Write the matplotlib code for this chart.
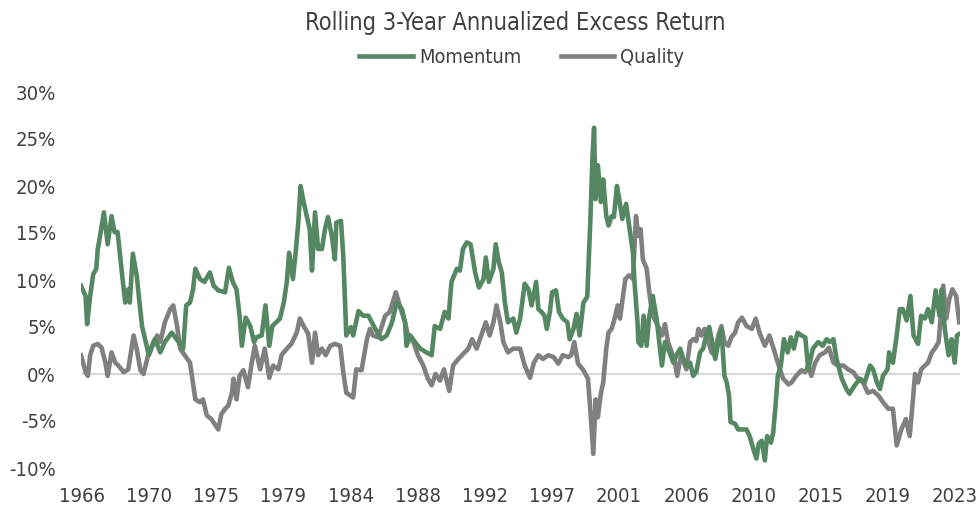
import numpy as np
import matplotlib
matplotlib.use("Agg")
import matplotlib.pyplot as plt
from matplotlib import font_manager

# rolling 3-year annualized excess return (percent)
momentum_years = [
    1966.0, 1966.3, 1966.4, 1966.6, 1966.8, 1967.0, 1967.1, 1967.2, 1967.5, 1967.75,
    1968.0, 1968.2, 1968.4, 1968.7, 1968.9, 1969.1, 1969.2, 1969.4, 1969.65, 1970.0,
    1970.25, 1970.45, 1970.85, 1971.2, 1971.5, 1971.95, 1972.4, 1972.7, 1972.9, 1973.15,
    1973.35, 1973.5, 1973.8, 1974.1, 1974.45, 1974.7, 1975.0, 1975.45, 1975.7, 1975.95,
    1976.2, 1976.4, 1976.55, 1976.8, 1977.1, 1977.35, 1977.5, 1977.85, 1978.1, 1978.35,
    1978.55, 1978.8, 1979.05, 1979.3, 1979.5, 1979.65, 1979.9, 1980.1, 1980.25, 1980.4,
    1980.6, 1980.85, 1981.0, 1981.15, 1981.35, 1981.55, 1981.8, 1982.0, 1982.2, 1982.45,
    1982.65, 1982.75, 1983.05, 1983.2, 1983.4, 1983.7, 1983.85, 1984.2, 1984.5, 1984.85,
    1985.3, 1985.7, 1986.05, 1986.4, 1986.7, 1987.05, 1987.25, 1987.35, 1987.6, 1987.9,
    1988.25, 1988.65, 1989.0, 1989.2, 1989.55, 1989.85, 1990.1, 1990.3, 1990.65, 1990.85,
    1991.05, 1991.3, 1991.55, 1991.85, 1992.1, 1992.4, 1992.55, 1992.75, 1993.05, 1993.2,
    1993.4, 1993.6, 1993.8, 1994.0, 1994.35, 1994.55, 1994.8, 1995.1, 1995.35, 1995.55,
    1995.85, 1996.0, 1996.2, 1996.4, 1996.55, 1996.75, 1996.9, 1997.15, 1997.35, 1997.6,
    1997.9, 1998.05, 1998.3, 1998.5, 1998.7, 1998.95, 1999.2, 1999.4, 1999.55, 1999.65,
    1999.75, 1999.9, 2000.1, 2000.25, 2000.45, 2000.6, 2000.8, 2000.95, 2001.15, 2001.3,
    2001.5, 2001.75, 2001.95, 2002.2, 2002.3, 2002.5, 2002.55, 2002.75, 2002.9, 2003.1,
    2003.25, 2003.5, 2003.75, 2004.1, 2004.3, 2004.6, 2004.85, 2005.05, 2005.3, 2005.5,
    2005.7, 2005.95, 2006.15, 2006.35, 2006.6, 2006.8, 2007.05, 2007.2, 2007.4, 2007.6,
    2007.8, 2008.0, 2008.1, 2008.2, 2008.35, 2008.5, 2008.6, 2008.9, 2009.1, 2009.35,
    2009.65, 2009.85, 2010.1, 2010.3, 2010.45, 2010.65, 2010.85, 2011.0, 2011.25, 2011.4,
    2011.55, 2011.7, 2011.9, 2012.1, 2012.35, 2012.55, 2012.75, 2013.0, 2013.25, 2013.5,
    2013.7, 2014.0, 2014.35, 2014.65, 2014.9, 2015.1, 2015.35, 2015.55, 2015.9, 2016.2,
    2016.4, 2016.75, 2017.1, 2017.4, 2017.75, 2017.95, 2018.2, 2018.4, 2018.6, 2018.9,
    2019.0, 2019.25, 2019.5, 2019.7, 2019.9, 2020.15, 2020.4, 2020.6, 2020.9, 2021.1,
    2021.35, 2021.55, 2021.8, 2022.05, 2022.3, 2022.45, 2022.65, 2022.9, 2023.1, 2023.3,
    2023.45, 2023.65,
]
momentum = [
    9.4, 8.3, 5.3, 8.3, 10.6, 11.2, 13.3, 14.2, 17.2, 13.8,
    16.8, 15.1, 15.1, 10.5, 7.6, 9.0, 7.6, 12.8, 10.5, 5.1,
    3.4, 2.0, 3.7, 2.3, 3.4, 4.4, 3.4, 2.7, 7.3, 7.6,
    9.0, 11.2, 10.1, 9.8, 10.8, 9.4, 8.9, 8.7, 11.3, 9.8,
    9.0, 6.2, 3.0, 6.0, 5.1, 3.4, 3.9, 4.1, 7.3, 3.0,
    5.1, 5.5, 5.9, 7.6, 9.8, 12.9, 10.1, 13.3, 16.1, 20.0,
    18.3, 16.5, 15.4, 11.0, 17.2, 13.3, 13.3, 15.4, 16.7, 14.7,
    12.2, 16.1, 16.3, 12.6, 4.1, 5.0, 4.1, 6.7, 6.2, 6.2,
    4.8, 3.7, 4.1, 5.5, 7.6, 6.9, 5.5, 3.0, 4.1, 3.4,
    2.7, 2.3, 2.0, 5.1, 4.8, 6.6, 5.9, 9.8, 11.2, 11.0,
    13.3, 14.0, 13.8, 10.8, 9.2, 10.1, 12.4, 9.8, 11.2, 13.8,
    11.9, 10.8, 7.6, 5.5, 5.9, 4.4, 5.9, 9.6, 9.0, 7.3,
    9.8, 6.9, 6.6, 6.2, 4.8, 6.6, 8.7, 8.9, 6.6, 5.9,
    5.5, 3.7, 4.8, 6.4, 4.1, 7.6, 8.2, 16.1, 23.2, 26.2,
    18.6, 22.2, 18.3, 20.7, 16.8, 15.8, 16.8, 16.7, 20.0, 18.6,
    16.5, 18.1, 15.8, 12.9, 9.8, 5.5, 3.4, 3.0, 6.2, 3.0,
    5.9, 8.3, 5.9, 0.9, 3.4, 2.3, 1.2, 2.0, 2.7, 1.6,
    0.9, 1.2, -0.2, 0.2, 2.3, 2.7, 4.4, 5.0, 3.4, 1.6,
    3.4, 4.8, 2.3, -0.2, -0.9, -2.3, -5.1, -5.3, -5.9, -5.9,
    -5.9, -6.6, -8.0, -9.0, -7.4, -7.1, -9.2, -6.6, -7.3, -6.2,
    -3.4, -0.2, 0.9, 3.7, 2.3, 3.9, 2.7, 4.4, 4.1, 3.9,
    0.5, 2.7, 3.4, 3.0, 3.7, 3.4, 3.7, 1.6, -0.5, -1.6,
    -2.1, -1.2, -0.5, -0.9, 0.9, 0.5, -0.9, -1.6, -0.2, 0.5,
    2.3, 1.2, 4.1, 6.9, 6.9, 5.7, 8.3, 4.1, 3.2, 6.2,
    5.9, 6.9, 5.5, 8.9, 6.2, 9.0, 4.8, 2.0, 3.7, 1.2,
    4.1, 4.3,
]

quality_years = [
    1966.0, 1966.3, 1966.45, 1966.6, 1966.8, 1967.1, 1967.35, 1967.6, 1967.75, 1968.0,
    1968.25, 1968.45, 1968.8, 1969.1, 1969.45, 1969.65, 1969.9, 1970.1, 1970.4, 1970.75,
    1971.0, 1971.2, 1971.5, 1971.85, 1972.05, 1972.3, 1972.5, 1972.8, 1973.15, 1973.5,
    1973.8, 1974.0, 1974.25, 1974.55, 1975.0, 1975.2, 1975.45, 1975.65, 1975.9, 1976.0,
    1976.2, 1976.4, 1976.65, 1976.95, 1977.2, 1977.4, 1977.75, 1978.05, 1978.35, 1978.6,
    1978.95, 1979.15, 1979.5, 1979.8, 1980.15, 1980.35, 1980.6, 1980.9, 1981.15, 1981.35,
    1981.55, 1981.8, 1982.05, 1982.35, 1982.65, 1983.0, 1983.2, 1983.4, 1983.85, 1984.05,
    1984.4, 1984.75, 1984.95, 1985.15, 1985.5, 1985.95, 1986.25, 1986.65, 1986.9, 1987.25,
    1987.45, 1987.8, 1988.1, 1988.45, 1988.75, 1989.0, 1989.25, 1989.55, 1989.8, 1990.15,
    1990.4, 1990.75, 1991.05, 1991.4, 1991.65, 1991.95, 1992.25, 1992.55, 1992.8, 1993.05,
    1993.25, 1993.5, 1993.7, 1994.0, 1994.35, 1994.8, 1995.1, 1995.45, 1995.7, 1996.0,
    1996.3, 1996.65, 1997.0, 1997.3, 1997.6, 1997.95, 1998.15, 1998.35, 1998.6, 1998.95,
    1999.25, 1999.4, 1999.6, 1999.75, 1999.9, 2000.1, 2000.25, 2000.45, 2000.6, 2000.8,
    2001.0, 2001.2, 2001.35, 2001.7, 2001.95, 2002.2, 2002.4, 2002.55, 2002.7, 2002.85,
    2003.1, 2003.3, 2003.5, 2003.85, 2004.1, 2004.3, 2004.5, 2004.75, 2004.95, 2005.1,
    2005.35, 2005.55, 2005.7, 2005.95, 2006.15, 2006.35, 2006.5, 2006.7, 2006.9, 2007.15,
    2007.35, 2007.55, 2007.8, 2008.0, 2008.2, 2008.45, 2008.65, 2008.9, 2009.1, 2009.35,
    2009.65, 2010.0, 2010.25, 2010.5, 2010.85, 2011.15, 2011.5, 2011.7, 2012.05, 2012.4,
    2012.6, 2012.9, 2013.25, 2013.5, 2013.7, 2013.9, 2014.15, 2014.45, 2014.8, 2015.05,
    2015.35, 2015.65, 2016.0, 2016.3, 2016.65, 2016.95, 2017.3, 2017.6, 2017.95, 2018.3,
    2018.6, 2018.95, 2019.25, 2019.5, 2019.8, 2020.1, 2020.35, 2020.55, 2020.7, 2020.9,
    2021.1, 2021.35, 2021.55, 2021.8, 2022.0, 2022.25, 2022.35, 2022.55, 2022.75, 2022.95,
    2023.15, 2023.4, 2023.6,
]
quality = [
    2.0, 0.2, -0.2, 2.0, 3.0, 3.2, 2.8, 1.2, -0.2, 2.3,
    1.2, 0.9, 0.2, 0.5, 4.1, 2.7, 0.4, 0.0, 2.0, 3.4,
    4.1, 3.4, 5.5, 6.9, 7.3, 5.1, 2.7, 2.0, 1.2, -2.7,
    -3.0, -2.7, -4.4, -4.8, -5.9, -4.3, -3.7, -3.4, -2.0, -0.5,
    -2.7, -0.2, 0.4, -1.4, 1.2, 3.0, 0.5, 2.7, -0.4, 0.9,
    0.5, 2.0, 2.7, 3.2, 4.4, 5.9, 5.1, 4.3, 1.2, 4.4,
    2.0, 2.7, 2.0, 3.0, 3.2, 3.0, 0.2, -2.0, -2.5, 0.5,
    0.4, 3.7, 4.8, 4.1, 3.9, 6.2, 6.6, 8.7, 7.3, 5.5,
    4.1, 3.4, 2.0, 0.9, -0.5, -1.2, 0.0, -0.7, 0.5, -1.8,
    0.9, 1.6, 2.1, 2.7, 3.7, 2.7, 4.1, 5.5, 4.1, 5.5,
    7.3, 5.5, 3.4, 2.3, 2.7, 2.7, 0.9, -0.4, 1.2, 2.0,
    1.6, 2.0, 1.8, 1.1, 2.0, 1.8, 2.0, 3.4, 1.1, 0.4,
    -0.5, -3.7, -8.5, -2.7, -4.6, -2.0, -0.9, 2.7, 4.4, 4.8,
    5.9, 7.3, 5.9, 10.1, 10.5, 10.1, 16.8, 14.7, 15.4, 12.2,
    11.2, 8.3, 6.2, 5.1, 4.1, 5.3, 3.4, 2.3, 1.2, -0.2,
    2.0, 1.2, 0.5, 3.4, 3.7, 3.5, 4.8, 4.1, 4.8, 3.4,
    2.3, 2.0, 4.1, 5.1, 3.4, 3.0, 3.9, 4.4, 5.5, 6.0,
    5.1, 4.8, 5.9, 4.4, 3.0, 4.1, 2.3, 1.2, -0.5, -1.1,
    -0.9, -0.2, 0.4, 0.2, 0.9, -0.2, 1.2, 2.0, 2.3, 2.8,
    1.2, 0.9, 0.9, 0.5, 0.2, -0.5, -0.9, -2.0, -1.8, -2.3,
    -3.0, -3.7, -3.7, -7.6, -5.9, -4.8, -6.6, -3.0, 0.0, -0.9,
    0.5, 0.9, 1.2, 2.3, 2.7, 3.4, 5.5, 9.4, 5.9, 8.0,
    9.0, 8.3, 5.5,
]

x_labels = ["1966", "1970", "1975", "1979", "1984", "1988", "1992",
            "1997", "2001", "2006", "2010", "2015", "2019", "2023"]
y_ticks = [-10, -5, 0, 5, 10, 15, 20, 25, 30]

# the original uses a narrow face; pick a condensed one if the box has it
narrow = None
for f in font_manager.fontManager.ttflist:
    if "Narrow" in f.name or "Condensed" in f.name or "condensed" in str(f.stretch):
        if f.weight in (400, "normal", "regular", "book") and f.style == "normal":
            narrow = f
            break

if narrow is not None:
    plt.rcParams["font.family"] = [narrow.name, "DejaVu Sans"]
    plt.rcParams["font.stretch"] = narrow.stretch
    tick_fs, legend_fs, title_fs, scale = 14.5, 14.3, 17, 1.0
else:
    plt.rcParams["font.family"] = ["Roboto", "DejaVu Sans"]
    tick_fs, legend_fs, title_fs, scale = 12.5, 12.5, 15, 0.85

text_col = "#404040"
green = "#548762"
grey = "#808080"

fig = plt.figure(figsize=(9.79, 5.16), dpi=100)
ax = fig.add_axes([81 / 979, 48 / 516, 879 / 979, 376 / 516])

ax.axhline(0, color="#d9d9d9", lw=1.5, zorder=1)
ax.plot(momentum_years, momentum, color=green, lw=3.3, label="Momentum",
        solid_joinstyle="round", zorder=3)
ax.plot(quality_years, quality, color=grey, lw=3.3, label="Quality",
        solid_joinstyle="round", zorder=2)

ax.set_xlim(1966.0, 2023.65)
ax.set_ylim(-10, 30)
ax.set_yticks(y_ticks)
ax.set_yticklabels([f"{v}%" for v in y_ticks])
ax.set_xticks(np.linspace(1966.07, 2023.3, len(x_labels)))
ax.set_xticklabels(x_labels)

for s in ax.spines.values():
    s.set_visible(False)
ax.tick_params(length=0, labelsize=tick_fs, labelcolor=text_col)
ax.tick_params(axis="y", pad=18)
ax.tick_params(axis="x", pad=14)

fig.text(0.526, 0.955, "Rolling 3-Year Annualized Excess Return", ha="center",
         va="center", fontsize=title_fs, color=text_col)
fig.legend(loc="center", bbox_to_anchor=(0.533, 0.889), ncol=2, frameon=False,
           fontsize=legend_fs, labelcolor=text_col, handlelength=2.7 / scale,
           handletextpad=0.3, columnspacing=2.0 / scale)

fig.savefig("out.png", dpi=100)
